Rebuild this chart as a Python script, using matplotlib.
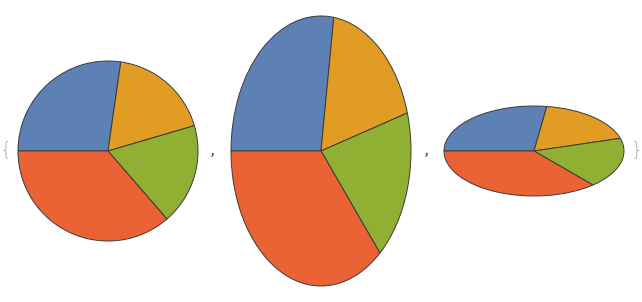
import matplotlib
matplotlib.use("Agg")
import matplotlib.pyplot as plt

values = [3, 2, 2, 4]
colors = ["#5E81B5", "#E19C24", "#8FB032", "#EB6235"]
# aspect ratios (height / width) of the three pies
aspects = [1.0, 1.5, 0.5]

W, H = 642, 302
fig = plt.figure(figsize=(W / 100, H / 100), dpi=100)

centers_x = [108, 321, 534]
cy = 151
rx = 90

for cx, a in zip(centers_x, aspects):
    ry = rx * a
    ax = fig.add_axes([(cx - rx) / W, (H - cy - ry) / H, 2 * rx / W, 2 * ry / H])
    wedges, _ = ax.pie(values, colors=colors, startangle=180, counterclock=False,
                       radius=1.0,
                       wedgeprops=dict(edgecolor="#3a3a3a", linewidth=0.7))
    ax.set_aspect("auto")
    ax.set_xlim(-1, 1)
    ax.set_ylim(-1, 1)
    ax.axis("off")

tc = "#a8a8a8"
fig.text(5.5 / W, 1 - 150 / H, "{", color=tc, fontsize=14, ha="center", va="center",
         family="DejaVu Sans", fontweight="light")
fig.text(212 / W, 1 - 150 / H, ",", color="#555555", fontsize=12, ha="center", va="center")
fig.text(426 / W, 1 - 150 / H, ",", color="#555555", fontsize=12, ha="center", va="center")
fig.text(637 / W, 1 - 150 / H, "}", color=tc, fontsize=14, ha="center", va="center",
         family="DejaVu Sans", fontweight="light")

fig.savefig("out.png", dpi=100)
